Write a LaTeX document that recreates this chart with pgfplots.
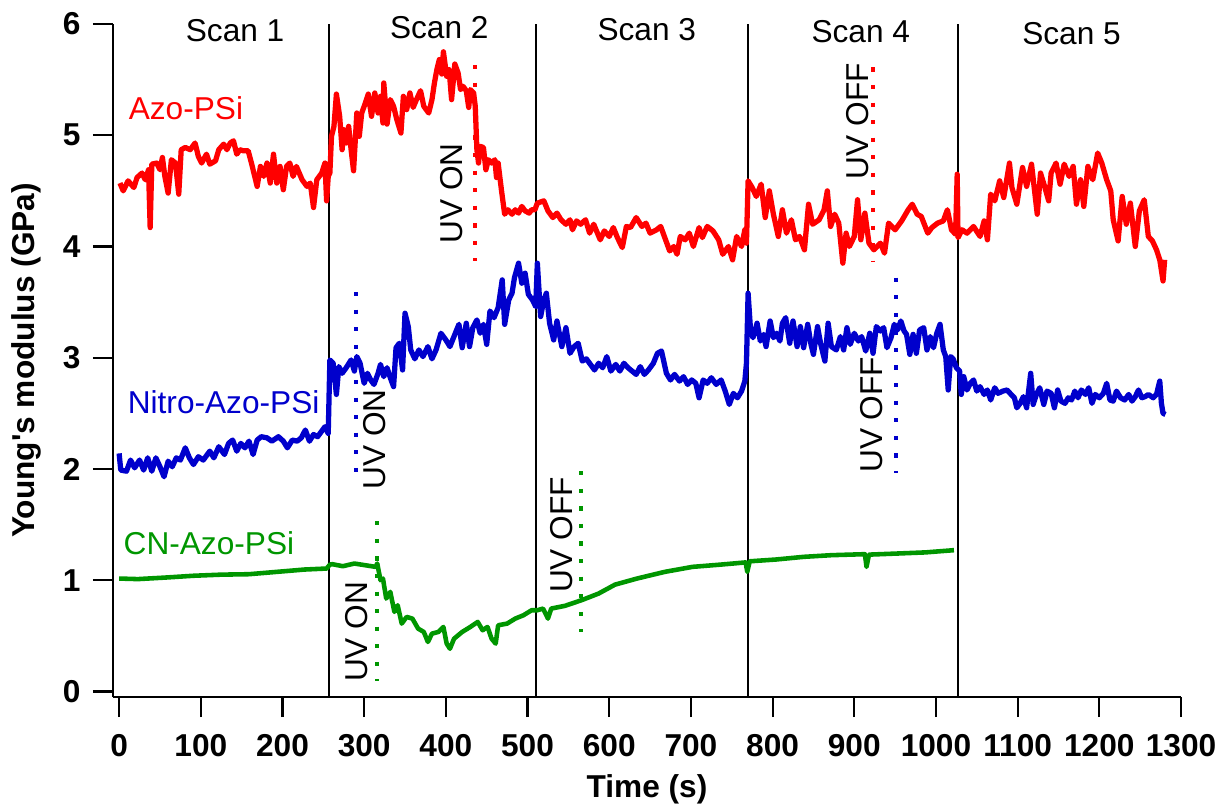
\documentclass[border=0pt]{standalone}
\usepackage{fontspec}
\setmainfont{Liberation Sans}
\usepackage{pgfplots}
\pgfplotsset{compat=1.18}
\usepackage{pgfplotstable}

\definecolor{azored}{RGB}{255,0,0}
\definecolor{nitroblue}{RGB}{0,0,204}
\definecolor{cngreen}{RGB}{0,150,0}

% Azo-PSi
\pgfplotstableread{
t E
1 4.57
5 4.50
11 4.59
18 4.53
22 4.62
28 4.66
32 4.60
36 4.69
38 4.17
40 4.74
46 4.75
50 4.69
53 4.80
56 4.63
60 4.48
64 4.78
69 4.75
73 4.47
76 4.87
81 4.89
87 4.87
93 4.93
97 4.81
101 4.75
107 4.83
111 4.74
118 4.77
122 4.87
128 4.92
132 4.87
136 4.93
140 4.95
144 4.83
148 4.87
152 4.86
158 4.86
162 4.75
169 4.54
173 4.72
177 4.63
181 4.75
185 4.57
189 4.83
193 4.57
197 4.72
201 4.51
205 4.72
209 4.75
213 4.63
217 4.72
224 4.60
230 4.54
234 4.57
238 4.35
242 4.60
248 4.66
252 4.75
254 4.41
256 4.63
258 4.66
260 4.99
263 5.08
266 5.37
270 5.17
273 4.87
275 5.05
278 4.93
281 5.08
284 4.87
287 4.68
291 5.20
294 4.99
297 5.20
301 5.28
305 5.37
309 5.17
313 5.38
317 5.20
320 5.35
323 5.11
324 5.47
328 5.10
332 5.32
336 5.26
340 5.14
345 5.02
348 5.35
352 5.23
356 5.38
360 5.25
364 5.32
369 5.40
373 5.26
379 5.20
383 5.32
386 5.47
389 5.59
392 5.68
395 5.55
397 5.75
401 5.53
404 5.59
407 5.32
411 5.64
415 5.56
418 5.41
421 5.44
425 5.40
428 5.25
430 5.41
434 5.38
436 5.26
438 4.87
440 4.75
442 4.90
446 4.89
449 4.69
452 4.78
456 4.75
460 4.78
462 4.62
464 4.75
468 4.51
472 4.29
476 4.33
481 4.29
485 4.33
489 4.30
493 4.36
497 4.32
502 4.30
505 4.33
509 4.33
512 4.39
520 4.41
525 4.32
531 4.26
536 4.30
541 4.24
547 4.20
552 4.24
555 4.15
560 4.23
565 4.20
571 4.24
576 4.12
581 4.20
589 4.06
594 4.14
600 4.09
605 4.17
610 4.08
616 3.99
621 4.18
626 4.17
633 4.26
640 4.18
645 4.21
650 4.12
658 4.15
663 4.18
669 4.06
674 3.96
679 4.00
683 3.93
687 4.09
693 4.06
698 4.12
703 4.00
710 4.17
714 4.08
720 4.18
727 4.14
734 4.06
739 3.93
746 4.00
751 3.88
756 4.09
762 4.00
766 4.15
768 4.03
770 4.59
775 4.53
780 4.45
786 4.56
791 4.26
796 4.50
801 4.29
807 4.09
812 4.33
817 4.12
823 4.24
828 4.06
833 4.09
839 3.97
844 4.38
849 4.20
857 4.24
863 4.33
867 4.50
871 4.18
876 4.29
881 4.21
886 3.85
890 4.12
894 4.00
900 4.09
904 4.42
908 4.06
913 4.30
918 4.03
924 3.97
932 4.03
937 3.94
942 4.21
950 4.15
958 4.23
966 4.33
971 4.38
977 4.29
982 4.27
990 4.12
995 4.17
1002 4.21
1009 4.23
1014 4.33
1019 4.15
1024 4.11
1026 4.65
1027 4.08
1032 4.15
1038 4.12
1046 4.18
1054 4.09
1059 4.23
1063 4.06
1067 4.47
1072 4.41
1078 4.59
1083 4.44
1090 4.75
1093 4.53
1099 4.38
1106 4.71
1111 4.54
1117 4.74
1124 4.29
1128 4.66
1133 4.54
1138 4.41
1141 4.66
1147 4.75
1152 4.56
1157 4.74
1163 4.63
1168 4.72
1172 4.38
1177 4.60
1181 4.36
1186 4.72
1192 4.60
1198 4.84
1203 4.75
1209 4.60
1214 4.50
1217 4.24
1223 4.05
1228 4.45
1233 4.20
1238 4.39
1244 4.00
1249 4.32
1255 4.42
1260 4.09
1265 4.05
1270 3.97
1274 3.88
1278 3.69
1280 3.88
}\azo

% Nitro-Azo-PSi
\pgfplotstableread{
t E
0 2.14
2 1.99
9 1.98
14 2.08
19 2.01
25 2.08
30 1.99
35 2.10
40 1.98
45 2.10
50 2.02
55 1.93
60 2.07
65 2.02
70 2.10
75 2.08
81 2.19
86 2.10
91 2.04
97 2.11
103 2.08
111 2.16
116 2.10
122 2.20
129 2.13
134 2.23
139 2.26
144 2.16
149 2.23
154 2.19
159 2.25
164 2.13
169 2.26
174 2.29
181 2.28
187 2.25
195 2.29
201 2.25
206 2.19
212 2.26
218 2.25
223 2.28
228 2.35
233 2.25
238 2.31
243 2.29
248 2.34
252 2.38
256 2.32
258 2.98
262 2.95
266 2.67
269 2.92
273 2.86
278 2.91
284 2.98
288 2.88
291 3.01
295 2.95
300 2.77
304 2.86
308 2.80
312 2.76
317 2.86
320 2.94
324 2.83
328 2.91
332 2.82
336 2.74
339 3.09
343 3.13
347 2.89
350 3.40
354 3.28
357 3.07
362 2.99
367 3.07
372 3.01
378 3.10
383 2.99
388 3.07
394 3.22
400 3.16
405 3.10
411 3.21
416 3.30
420 3.09
425 3.31
429 3.10
433 3.27
438 3.34
442 3.22
446 3.30
450 3.12
454 3.42
459 3.36
464 3.45
469 3.70
472 3.30
477 3.52
481 3.58
484 3.72
489 3.85
493 3.67
497 3.76
501 3.57
506 3.52
510 3.46
512 3.85
516 3.37
520 3.52
523 3.58
527 3.31
532 3.16
536 3.33
542 3.10
547 3.27
552 3.04
557 3.10
562 3.13
567 2.97
572 2.99
577 2.94
582 2.89
587 2.95
592 2.91
597 3.01
602 2.88
608 2.94
613 2.88
618 2.95
623 2.91
628 2.88
633 2.85
638 2.92
643 2.85
648 2.89
654 2.95
659 3.04
664 3.06
670 2.86
675 2.80
680 2.85
686 2.79
691 2.83
696 2.76
701 2.80
706 2.77
710 2.64
715 2.80
720 2.77
725 2.82
731 2.76
737 2.80
742 2.70
747 2.58
752 2.68
757 2.64
762 2.70
766 2.79
768 2.95
770 3.58
773 3.25
776 3.18
781 3.31
785 3.15
789 3.21
792 3.10
797 3.33
801 3.18
805 3.22
809 3.15
812 3.31
816 3.36
821 3.13
825 3.33
830 3.10
834 3.28
838 3.09
843 3.30
847 3.12
850 3.03
855 3.28
859 3.12
864 2.97
868 3.31
872 3.10
878 3.07
883 3.19
887 3.07
891 3.27
895 3.12
900 3.22
905 3.15
909 3.19
914 3.06
919 3.22
923 3.04
927 3.28
932 3.24
936 3.27
940 3.09
945 3.18
949 3.30
953 3.25
957 3.33
961 3.24
964 3.21
968 3.03
972 3.21
976 3.04
980 3.25
985 3.27
989 3.07
993 3.19
997 3.09
1001 3.22
1005 3.30
1009 3.07
1012 3.01
1015 2.71
1018 3.01
1021 2.99
1025 2.91
1029 2.88
1031 2.67
1034 2.83
1038 2.71
1042 2.77
1046 2.80
1050 2.70
1054 2.74
1059 2.67
1063 2.71
1067 2.62
1072 2.73
1076 2.68
1082 2.70
1087 2.71
1092 2.67
1096 2.64
1099 2.55
1103 2.59
1107 2.65
1111 2.55
1116 2.86
1119 2.58
1123 2.67
1127 2.73
1132 2.58
1136 2.70
1141 2.68
1145 2.55
1149 2.71
1153 2.61
1158 2.59
1162 2.64
1166 2.62
1170 2.70
1174 2.64
1178 2.71
1183 2.67
1187 2.73
1191 2.59
1195 2.67
1200 2.64
1205 2.68
1209 2.77
1213 2.62
1217 2.61
1221 2.70
1226 2.64
1231 2.62
1236 2.67
1240 2.61
1244 2.65
1248 2.71
1252 2.64
1256 2.65
1260 2.67
1266 2.64
1270 2.67
1274 2.79
1276 2.59
1278 2.50
1281 2.49
}\nitro

% CN-Azo-PSi
\pgfplotstableread{
t E
0 1.015
23 1.01
57 1.024
91 1.04
125 1.05
159 1.054
193 1.075
227 1.096
254 1.105
258 1.14
261 1.144
274 1.126
288 1.15
301 1.135
314 1.12
316 1.15
320 1.00
323 1.015
327 0.835
332 0.895
337 0.715
341 0.775
346 0.61
352 0.67
359 0.655
366 0.565
373 0.535
378 0.445
383 0.52
391 0.535
397 0.58
401 0.43
405 0.384
410 0.474
420 0.535
430 0.58
439 0.625
445 0.55
451 0.58
456 0.474
461 0.43
464 0.595
475 0.61
485 0.655
495 0.685
505 0.73
512 0.73
519 0.745
525 0.655
529 0.745
546 0.77
566 0.82
587 0.88
607 0.96
634 1.015
668 1.075
702 1.12
736 1.14
767 1.16
769 1.075
772 1.17
804 1.186
838 1.21
872 1.225
913 1.234
915 1.12
918 1.23
953 1.24
987 1.25
1022 1.27
}\cn

\begin{document}
\begin{tikzpicture}[font=\fontsize{9}{11}\selectfont]
\begin{axis}[
  scale only axis, width=10.68cm, height=6.73cm,
  xmin=-7.5, xmax=1300, ymin=-0.05, ymax=6,
  axis x line=bottom, axis y line=left,
  axis line style={-, line width=0.6pt},
  xtick={0,100,...,1300}, ytick={0,1,...,6},
  tick align=outside, major tick length=0.2cm,
  tick style={black, line width=0.6pt},
  scaled x ticks=false,
  x tick label style={/pgf/number format/1000 sep={}, yshift=-0.05cm},
  tick label style={font=\bfseries\fontsize{9}{11}\selectfont},
  /pgf/number format/assume math mode=true,
  clip=false,
  curve/.style={line width=1.5pt, line join=round},
  uvdots/.style={line width=1.2pt, dash pattern=on 1.2pt off 3.8pt},
  scanline/.style={black, line width=0.55pt},
]
% scan boundaries
\addplot[scanline] coordinates {(257.5,-0.05) (257.5,6)};
\addplot[scanline] coordinates {(510.5,-0.05) (510.5,6)};
\addplot[scanline] coordinates {(769.5,-0.05) (769.5,6)};
\addplot[scanline] coordinates {(1026.5,-0.05) (1026.5,6)};

\addplot[curve, azored] table[x=t, y=E] {\azo};
\addplot[curve, nitroblue] table[x=t, y=E] {\nitro};
\addplot[curve, cngreen, line width=1.3pt] table[x=t, y=E] {\cn};

% UV markers
\addplot[uvdots, azored] coordinates {(435.8,5.63) (435.8,3.87)};
\addplot[uvdots, azored] coordinates {(923,5.61) (923,3.86)};
\addplot[uvdots, nitroblue] coordinates {(289.7,3.59) (289.7,1.86)};
\addplot[uvdots, nitroblue] coordinates {(950.8,3.72) (950.8,1.96)};
\addplot[uvdots, cngreen] coordinates {(316,1.53) (316,0.09)};
\addplot[uvdots, cngreen] coordinates {(565,1.98) (565,0.53)};

\node[rotate=90, anchor=base west, inner sep=0pt] at (axis cs:420,4.02) {UV ON};
\node[rotate=90, anchor=base west, inner sep=0pt] at (axis cs:917,4.60) {UV OFF};
\node[rotate=90, anchor=base west, inner sep=0pt] at (axis cs:325.6,1.81) {UV ON};
\node[rotate=90, anchor=base west, inner sep=0pt] at (axis cs:935,1.96) {UV OFF};
\node[rotate=90, anchor=base west, inner sep=0pt] at (axis cs:303.6,0.08) {UV ON};
\node[rotate=90, anchor=base west, inner sep=0pt] at (axis cs:554.5,0.88) {UV OFF};

\node at (axis cs:142,5.94) {Scan 1};
\node at (axis cs:392,5.97) {Scan 2};
\node at (axis cs:646,5.95) {Scan 3};
\node at (axis cs:908,5.93) {Scan 4};
\node at (axis cs:1166,5.91) {Scan 5};

\node[anchor=base west, inner sep=0pt, text=azored] at (axis cs:11,5.14) {Azo-PSi};
\node[anchor=base west, inner sep=0pt, text=nitroblue] at (axis cs:9.8,2.50) {Nitro-Azo-PSi};
\node[anchor=base west, inner sep=0pt, text=cngreen] at (axis cs:4.7,1.23) {CN-Azo-PSi};
\end{axis}
\path (current axis.south west) ++(5.34cm,-1.0cm)
  node[anchor=base, inner sep=0pt, font=\bfseries\fontsize{9}{11}\selectfont] {Time (s)};
\path (current axis.south west) ++(-0.78cm,3.365cm)
  node[rotate=90, anchor=base, inner sep=0pt, font=\bfseries\fontsize{9}{11}\selectfont] {Young\textquotesingle s modulus (GPa)};
\pgfresetboundingbox
\path[use as bounding box] (current axis.south west) ++(-1.13cm,-1.07cm) rectangle ++(12.18cm,8.04cm);
\end{tikzpicture}
\end{document}
